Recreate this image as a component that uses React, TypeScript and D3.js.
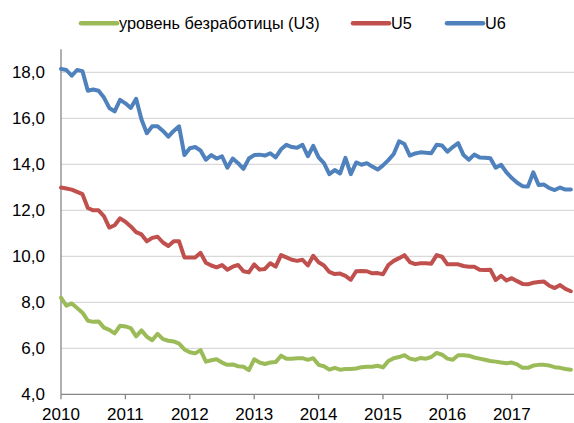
import * as d3 from "d3";

const years = ["2010", "2011", "2012", "2013", "2014", "2015", "2016", "2017"];
const yTicks = [4, 6, 8, 10, 12, 14, 16, 18];

// monthly values, Jan 2010 .. Dec 2017
const u3 = [
  8.2, 7.85, 7.95, 7.75, 7.55, 7.2, 7.15, 7.17, 6.9, 6.8, 6.65, 6.98,
  6.95, 6.88, 6.52, 6.78, 6.5, 6.35, 6.63, 6.4, 6.33, 6.3, 6.2, 5.95,
  5.83, 5.78, 5.92, 5.42, 5.48, 5.52, 5.38, 5.28, 5.3, 5.22, 5.2, 5.05,
  5.52, 5.38, 5.32, 5.38, 5.4, 5.68, 5.55, 5.55, 5.57, 5.57, 5.5, 5.57,
  5.28, 5.22, 5.07, 5.15, 5.07, 5.1, 5.1, 5.12, 5.18, 5.2, 5.2, 5.24,
  5.17, 5.45, 5.57, 5.62, 5.7, 5.55, 5.5, 5.58, 5.55, 5.62, 5.8, 5.72,
  5.55, 5.5, 5.7, 5.7, 5.68, 5.6, 5.55, 5.5, 5.45, 5.42, 5.38, 5.35,
  5.38, 5.3, 5.15, 5.15, 5.25, 5.28, 5.28, 5.25, 5.18, 5.15, 5.1, 5.07
];
const u5 = [
  12.99, 12.95, 12.9, 12.8, 12.7, 12.1, 12.0, 12.0, 11.75, 11.25, 11.35, 11.65,
  11.5, 11.3, 11.05, 10.95, 10.65, 10.8, 10.85, 10.6, 10.45, 10.65, 10.65, 9.95,
  9.95, 9.95, 10.15, 9.72, 9.6, 9.52, 9.62, 9.42, 9.55, 9.62, 9.35, 9.3,
  9.65, 9.42, 9.45, 9.7, 9.55, 10.05, 9.95, 9.85, 9.8, 9.85, 9.6, 10.02,
  9.74, 9.6, 9.32, 9.23, 9.25, 9.15, 8.98, 9.35, 9.36, 9.35, 9.26, 9.27,
  9.22, 9.62, 9.8, 9.92, 10.05, 9.75, 9.66, 9.7, 9.7, 9.68, 10.05, 9.98,
  9.65, 9.65, 9.65, 9.58, 9.55, 9.55, 9.42, 9.4, 9.42, 8.97, 9.15, 8.95,
  9.05, 8.92, 8.8, 8.78, 8.85, 8.88, 8.9, 8.72, 8.62, 8.75, 8.58, 8.48
];
const u6 = [
  18.15, 18.1, 17.85, 18.1, 18.05, 17.2, 17.25, 17.2, 16.9, 16.45, 16.3, 16.8,
  16.65, 16.45, 16.85, 15.95, 15.35, 15.65, 15.65, 15.45, 15.2, 15.45, 15.65, 14.4,
  14.7, 14.75, 14.6, 14.2, 14.4, 14.25, 14.35, 13.85, 14.25, 14.05, 13.8, 14.25,
  14.4, 14.42, 14.38, 14.48, 14.3, 14.65, 14.85, 14.75, 14.72, 14.85, 14.35, 14.8,
  14.3, 14.05, 13.57, 13.75, 13.6, 14.28, 13.57, 14.08, 13.98, 14.05, 13.9, 13.77,
  13.95, 14.18, 14.45, 15.0, 14.88, 14.38, 14.47, 14.52, 14.5, 14.48, 14.85, 14.82,
  14.55, 14.75, 14.92, 14.4, 14.2, 14.42, 14.3, 14.28, 14.26, 13.85, 13.98, 13.65,
  13.4, 13.2, 13.05, 13.03, 13.65, 13.1, 13.12, 12.96, 12.88, 12.99, 12.9, 12.9
];

const series = [
  { name: "уровень безработицы (U3)", values: u3, color: "#9bbb59" },
  { name: "U5", values: u5, color: "#c0504d" },
  { name: "U6", values: u6, color: "#4f81bd" }
];

const legendPos = [81, 353, 447];

export default function App() {
  const width = 574;
  const height = 423;
  const x = d3.scaleLinear().domain([0, 96]).range([61, 576.2]);
  const y = d3.scaleLinear().domain([4, 19]).range([394.3, 49.3]);
  const line = d3
    .line<number>()
    .x((_, i) => x(i))
    .y((v) => y(v));
  const font = "'Liberation Sans', Arial, sans-serif";

  return (
    <svg
      width={width}
      height={height}
      viewBox={`0 0 ${width} ${height}`}
      style={{ position: "absolute", left: 0, top: 0, background: "#fff" }}
      fontFamily={font}
    >
      {yTicks.slice(1).map((t) => (
        <line key={t} x1={61} x2={width} y1={y(t)} y2={y(t)} stroke="#d9d9d9" strokeWidth={1.3} />
      ))}
      <line x1={61} x2={61} y1={y(19)} y2={y(4)} stroke="#868686" strokeWidth={1.3} />
      <line x1={61} x2={width} y1={y(4)} y2={y(4)} stroke="#868686" strokeWidth={1.3} />
      {years.map((yr, i) => (
        <g key={yr}>
          <line x1={x(i * 12)} x2={x(i * 12)} y1={y(4)} y2={y(4) + 5} stroke="#868686" strokeWidth={1.3} />
          <text x={x(i * 12)} y={419.5} textAnchor="middle" fontSize={17} fill="#000">
            {yr}
          </text>
        </g>
      ))}
      {yTicks.map((t) => (
        <text key={t} x={45} y={y(t)} dy="0.36em" textAnchor="end" fontSize={17} fill="#000">
          {t.toFixed(1).replace(".", ",")}
        </text>
      ))}
      {series.map((s) => (
        <path
          key={s.name}
          d={line(s.values) ?? ""}
          fill="none"
          stroke={s.color}
          strokeWidth={4}
          strokeLinejoin="round"
          strokeLinecap="round"
        />
      ))}
      {series.map((s, i) => (
        <g key={s.name}>
          <line x1={legendPos[i]} x2={legendPos[i] + 36} y1={23.3} y2={23.3} stroke={s.color} strokeWidth={4.5} strokeLinecap="round" />
          <text x={legendPos[i] + 38} y={23.3} dy="0.36em" fontSize={16.3} fill="#000">
            {s.name}
          </text>
        </g>
      ))}
    </svg>
  );
}
